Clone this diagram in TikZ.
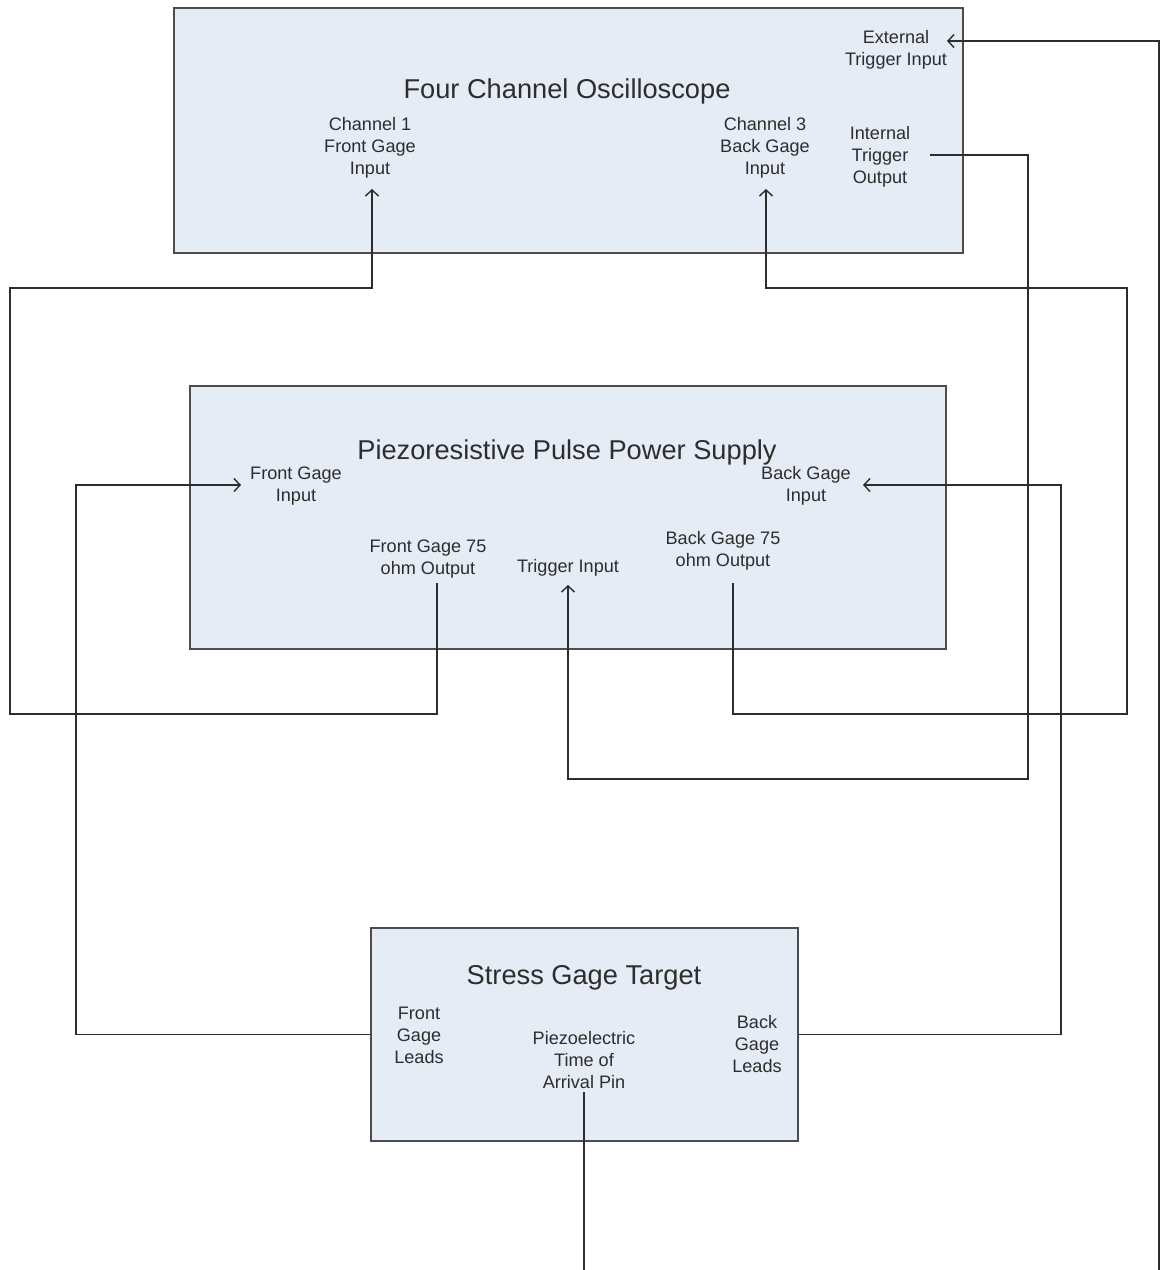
\documentclass[tikz,border=0pt]{standalone}
\usepackage{fontspec}
\setmainfont{Liberation Sans}
\usepackage{tikz}
\usetikzlibrary{calc,arrows.meta}

\definecolor{boxfill}{RGB}{230,236,246}
\definecolor{ink}{RGB}{45,45,45}

\begin{document}
\begin{tikzpicture}[x=0.02cm,y=-0.02cm,
    box/.style={draw=black!70, line width=0.85pt, fill=boxfill, inner sep=0pt},
    lbl/.style={align=center, inner sep=0pt, text=ink, font=\fontsize{10.3}{12.5}\selectfont},
    ttl/.style={inner sep=0pt, text=ink, font=\fontsize{15.5}{18}\selectfont},
    wire/.style={draw=ink, line width=0.8pt},
    >={Straight Barb[length=3.5pt,width=7.5pt]}]
                      \path[use as bounding box, fill=white] (0,0) rectangle (1162,1270);
                      % the three units
                      \node[box, minimum width=15.78cm, minimum height=4.9cm] (scope) at (568.5,130.5) {};
                      \node[box, minimum width=15.12cm, minimum height=5.26cm] (supply) at (568,517.5) {};
                      \node[box, minimum width=8.54cm, minimum height=4.26cm] (target) at (584.5,1034.5) {};
                      \node[ttl] (scopettl) at (567,91) {Four Channel Oscilloscope};
                      \node[ttl] (supplyttl) at (567,452) {Piezoresistive Pulse Power Supply};
                      \node[ttl] (targetttl) at (584,978) {Stress Gage Target};
                      % port labels
                      \node[lbl] (extlbl) at (896,50) {External\\Trigger Input};
                      \node[lbl] (ch1lbl) at (370,148) {Channel 1\\Front Gage\\Input};
                      \node[lbl] (ch3lbl) at (765,148) {Channel 3\\Back Gage\\Input};
                      \node[lbl] (intlbl) at (880,157) {Internal\\Trigger\\Output};
                      \node[lbl] (fginlbl) at (296,486) {Front Gage\\Input};
                      \node[lbl] (bginlbl) at (806,486) {Back Gage\\Input};
                      \node[lbl] (fgoutlbl) at (428,559) {Front Gage 75\\ohm Output};
                      \node[lbl] (triglbl) at (568,568) {Trigger Input};
                      \node[lbl] (bgoutlbl) at (723,551) {Back Gage 75\\ohm Output};
                      \node[lbl] (fleads) at (419,1035) {Front\\Gage\\Leads};
                      \node[lbl] (pinlbl) at (584,1060) {Piezoelectric\\Time of\\Arrival Pin};
                      \node[lbl] (bleads) at (757,1044) {Back\\Gage\\Leads};
                      % port points
                      \coordinate (ch1in) at (372,189);
                      \coordinate (ch3in) at (766,189);
                      \coordinate (extin) at (947,41);
                      \coordinate (intout) at (930,155);
                      \coordinate (fgin) at (241,485);
                      \coordinate (bgin) at (863,485);
                      \coordinate (fgout) at (437,583);
                      \coordinate (bgout) at (733,583);
                      \coordinate (trigin) at (568,585);
                      \coordinate (pinout) at (584,1092);
                      \coordinate (pinend) at (584,1270);
                      \coordinate (extend) at (1159,1270);
                      % cabling
                      \draw[wire,->] (fgout) |- (10,714) |- (372,288) -- (ch1in);
                      \draw[wire,->] (bgout) |- (1127,714) |- (766,288) -- (ch3in);
                      \draw[wire,->] (intout) -| (1028,779) -| (trigin);
                      \draw[wire,->] (target.west) -| (76,485) -- (fgin);
                      \draw[wire,->] (target.east) -| (1061,485) -- (bgin);
                      \draw[wire] (pinout) -- (pinend);
                      \draw[wire,->] (extend) |- (extin);
                  \end{tikzpicture}
\end{document}
